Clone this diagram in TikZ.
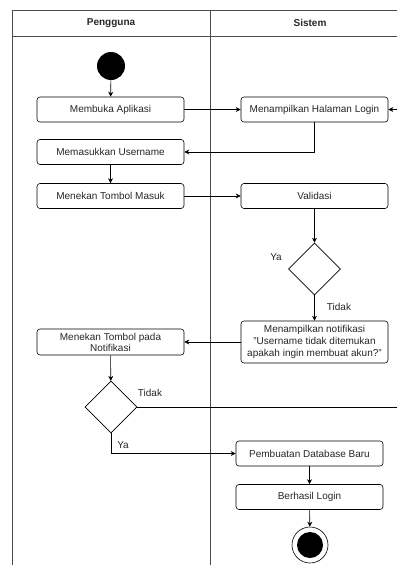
\documentclass[tikz,border=0pt]{standalone}
\usepackage{fontspec}
\setmainfont{Liberation Sans}
\usetikzlibrary{shapes.geometric,arrows.meta}
\begin{document}
\begin{tikzpicture}[x=1pt,y=-1pt,
  every node/.style={font=\fontsize{10}{12}\selectfont, text=black!85},
  actbox/.style={draw, rounded corners=3pt, minimum width=147pt, minimum height=25pt,
    inner sep=1pt, align=center, line width=0.6pt},
  choice/.style={draw, diamond, aspect=1, minimum width=52pt, minimum height=52pt,
    inner sep=0pt, line width=0.6pt},
  flow/.style={line width=0.6pt, -{Stealth[length=5pt,width=5pt]}},
  lane/.style={line width=0.8pt, draw=black!70},
  lbl/.style={inner sep=0pt}
]
\useasboundingbox (0,0) rectangle (397,565);

% swimlane frame
\draw[lane] (12,565) -- (12,10) -- (397,10);
\draw[lane] (12,36) -- (397,36);
\draw[lane] (210,10) -- (210,565);
\node[lbl, font=\fontsize{10}{12}\selectfont\bfseries] (hPengguna) at (111,23) {Pengguna};
\node[lbl, font=\fontsize{10}{12}\selectfont\bfseries] (hSistem) at (310,23) {Sistem};

% activities
\node[circle, fill=black, minimum size=28pt, inner sep=0pt] (start) at (111,66) {};
\node[actbox] (buka) at (110.5,109.5) {Membuka Aplikasi};
\node[actbox] (halaman) at (314.5,109.5) {Menampilkan Halaman Login};
\node[actbox] (user) at (110.5,152) {Memasukkan Username};
\node[actbox] (tombol) at (110.5,196) {Menekan Tombol Masuk};
\node[actbox] (valid) at (314.5,196) {Validasi};
\node[choice] (cek) at (314.5,269) {};
\node[actbox, minimum height=42pt] (notif) at (314.5,342)
  {Menampilkan notifikasi\\"Username tidak ditemukan\\apakah ingin membuat akun?"};
\node[actbox, minimum height=26pt, font=\fontsize{10}{11}\selectfont] (ptn) at (110.5,342)
  {Menekan Tombol pada\\Notifikasi};
\node[choice] (pilih) at (111,407) {};
\node[actbox] (db) at (309.5,453.5) {Pembuatan Database Baru};
\node[actbox] (login) at (309.5,497) {Berhasil Login};
\node[circle, draw, line width=0.6pt, fill=white, minimum size=36pt, inner sep=0pt] (fin) at (310,545) {};
\node[circle, fill=black, minimum size=26pt, inner sep=0pt] (finin) at (310,545) {};

\coordinate (masuk) at (397,109.5);
\coordinate (keluar) at (397,407);

% connectors
\draw[flow] (start) -- (buka);
\draw[flow] (buka) -- (halaman);
\draw[flow] (masuk) -- (halaman);
\draw[flow] (halaman.south) |- (user.east);
\draw[flow] (user) -- (tombol);
\draw[flow] (tombol) -- (valid);
\draw[flow] (valid) -- (cek);
\draw[flow] (cek) -- (notif);
\draw[flow] (notif) -- (ptn);
\draw[flow] (ptn) -- (pilih);
\draw[line width=0.6pt] (pilih.east) -- (keluar);
\draw[flow] (pilih.south) |- (db.west);
\draw[flow] (db) -- (login);
\draw[flow] (login) -- (fin);

% guard labels
\node[lbl] (yaA) at (276,257) {Ya};
\node[lbl] (tidakA) at (339,307) {Tidak};
\node[lbl] (tidakB) at (150,393) {Tidak};
\node[lbl] (yaB) at (123,445) {Ya};
\end{tikzpicture}
\end{document}
